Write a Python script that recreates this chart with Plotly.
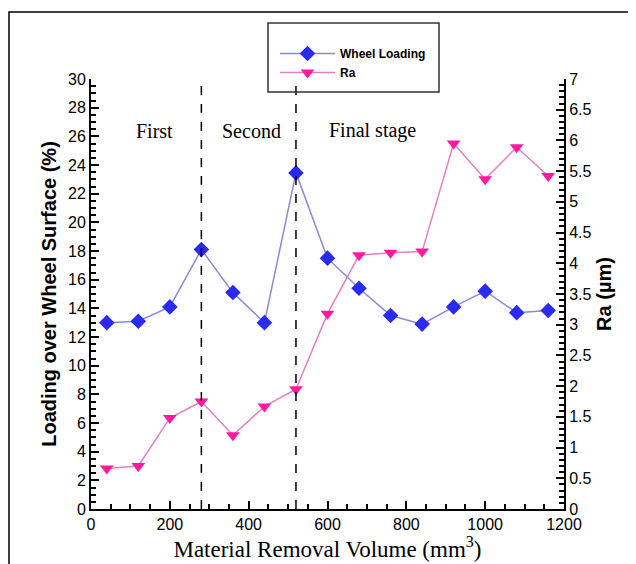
import plotly.graph_objects as go

volume = [40, 120, 200, 280, 360, 440, 520, 600, 680, 760, 840, 920, 1000, 1080, 1160]
wheel_loading = [13.0, 13.1, 14.1, 18.1, 15.1, 13.0, 23.45, 17.5, 15.4, 13.5, 12.9, 14.1, 15.2, 13.7, 13.85]
ra = [0.66, 0.70, 1.48, 1.75, 1.20, 1.67, 1.95, 3.18, 4.13, 4.17, 4.19, 5.95, 5.37, 5.89, 5.42]
stage_bounds = [280, 520]
stage_labels = ["First", "Second", "Final stage"]
stage_label_x = [162, 406, 715]
stage_label_y = 26.4

# page offset: the browser body has an 8px margin, so the figure is 8px smaller
PAD = 8
W, H = 636 - PAD, 564 - PAD
L, R, T, B = 91 - PAD, 72, 79 - PAD, 55
PW, PH = W - L - R, H - T - B


def px(xpage):
    return (xpage - PAD - L) / PW


def py(ypage):
    return (H - B - (ypage - PAD)) / PH


fig = go.Figure()
fig.add_trace(go.Scatter(
    x=volume, y=wheel_loading, name="Wheel Loading", mode="lines+markers",
    line=dict(color="#8a8ad6", width=1.5),
    marker=dict(symbol="diamond", size=12, color="#2b2bf0"),
    yaxis="y"))
fig.add_trace(go.Scatter(
    x=volume, y=ra, name="Ra", mode="lines+markers",
    line=dict(color="#e080c8", width=1.5),
    marker=dict(symbol="triangle-down", size=12, color="#ff1aa0"),
    yaxis="y2"))

shapes = []
for b in stage_bounds:
    shapes.append(dict(type="line", xref="x", yref="y", x0=b, x1=b, y0=0, y1=30.1,
                       line=dict(color="black", width=1.5, dash="dash")))
# outer frame
shapes.append(dict(type="rect", xref="paper", yref="paper",
                   x0=px(9), x1=px(700), y0=py(620), y1=py(12),
                   line=dict(color="black", width=1.5)))
# legend box
shapes.append(dict(type="rect", xref="paper", yref="paper",
                   x0=px(268), x1=px(439), y0=py(92), y1=py(23),
                   line=dict(color="#333333", width=1.5)))

annotations = []
for lab, lx in zip(stage_labels, stage_label_x):
    annotations.append(dict(x=lx, y=stage_label_y, xref="x", yref="y", text=lab,
                            showarrow=False,
                            font=dict(family="Liberation Serif", size=20, color="black")))

tickfont = dict(family="Liberation Sans", size=16, color="black")
fig.update_layout(
    width=W, height=H,
    margin=dict(l=L, r=R, t=T, b=B, autoexpand=False),
    paper_bgcolor="white", plot_bgcolor="white",
    showlegend=True,
    legend=dict(x=px(275), y=py(39), xanchor="left", yanchor="top",
                bgcolor="rgba(0,0,0,0)", borderwidth=0, itemwidth=55,
                font=dict(family="Liberation Sans", size=12, color="black", weight="bold"),
                tracegroupgap=0),
    xaxis=dict(range=[0, 1200], dtick=200, tick0=0, showgrid=False, zeroline=False,
               automargin=False,
               showline=True, linecolor="black", linewidth=2,
               ticks="inside", ticklen=8, tickwidth=2, tickcolor="black",
               minor=dict(dtick=50, ticks="inside", ticklen=5, tickwidth=1.5, tickcolor="black"),
               tickfont=tickfont,
               title=dict(text="Material Removal Volume (mm<sup>3</sup>)",
                          font=dict(family="Liberation Serif", size=23, color="black"),
                          standoff=0)),
    yaxis=dict(range=[0, 30], dtick=2, showgrid=False, zeroline=False,
               automargin=False,
               showline=True, linecolor="black", linewidth=2,
               ticks="inside", ticklen=8, tickwidth=2, tickcolor="black",
               minor=dict(dtick=0.5, ticks="inside", ticklen=5, tickwidth=1.5, tickcolor="black"),
               tickfont=tickfont,
               title=dict(text="<b>Loading over Wheel Surface (%)</b>",
                          font=dict(family="Liberation Sans", size=20, color="black"),
                          standoff=6)),
    yaxis2=dict(range=[0, 7], dtick=0.5, overlaying="y", side="right",
                showgrid=False, zeroline=False, automargin=False,
                showline=True, linecolor="black", linewidth=2,
                ticks="inside", ticklen=8, tickwidth=2, tickcolor="black",
                minor=dict(dtick=0.1, ticks="inside", ticklen=5, tickwidth=1.5, tickcolor="black"),
                tickfont=tickfont,
                title=dict(text="<b>Ra (µm)</b>",
                           font=dict(family="Liberation Sans", size=20, color="black"),
                           standoff=6)),
    shapes=shapes, annotations=annotations,
)

fig.write_html("out.html")
